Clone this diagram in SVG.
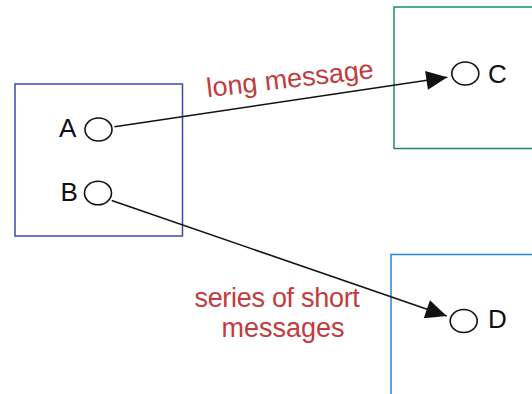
<svg xmlns="http://www.w3.org/2000/svg" width="532" height="394" viewBox="0 0 532 394">
  <style>
    .box { fill: none; stroke-width: 1.5; }
    .port { fill: #fff; stroke: #111; stroke-width: 1.6; }
    .lbl { font-family: "Liberation Sans", Arial, sans-serif; font-size: 26px; fill: #111; }
    .msg { font-family: "Liberation Sans", Arial, sans-serif; font-size: 27px; fill: #c23b3d; }
    .wire { fill: none; stroke: #111; stroke-width: 1.6; }
  </style>
  <defs>
    <marker id="arrow" markerUnits="userSpaceOnUse" markerWidth="24" markerHeight="22" viewBox="-22 -11 24 22" refX="0" refY="0" orient="auto">
      <path d="M0,0 L-21,-9.5 L-21,9.5 Z" fill="#111"/>
    </marker>
  </defs>

  <rect width="532" height="394" fill="#fff"/>

  <g id="node-left">
    <rect class="box" x="15" y="84" width="167.5" height="152" stroke="#3c48a8"/>
    <text class="lbl" x="59" y="136.7">A</text>
    <ellipse id="port-a" class="port" cx="98.5" cy="129.5" rx="13.5" ry="11.5"/>
    <text class="lbl" x="60.5" y="200.7">B</text>
    <ellipse id="port-b" class="port" cx="98" cy="193" rx="13.5" ry="11.8"/>
  </g>

  <g id="node-c">
    <rect class="box" x="394" y="7" width="150" height="141.5" stroke="#1e8c62"/>
    <ellipse class="port" cx="465.3" cy="73.5" rx="13.5" ry="11.5"/>
    <text class="lbl" x="488" y="83.3">C</text>
  </g>

  <g id="node-d">
    <rect class="box" x="391" y="254.5" width="150" height="150" stroke="#1d8bd0"/>
    <ellipse class="port" cx="463.7" cy="321" rx="13.5" ry="11.5"/>
    <text class="lbl" x="488" y="327.5">D</text>
  </g>

  <g id="connectors">
    <line class="wire" x1="114.5" y1="126.8" x2="447.3" y2="77.3" marker-end="url(#arrow)"/>
    <line class="wire" x1="111.7" y1="200.5" x2="446.7" y2="316" marker-end="url(#arrow)"/>
    <text class="msg" transform="translate(207.5 97.3) rotate(-6.6)">long message</text>
    <text class="msg" text-anchor="middle" x="277" y="306.7" letter-spacing="-0.3">series of short</text>
    <text class="msg" text-anchor="middle" x="283" y="337.3">messages</text>
  </g>
</svg>
